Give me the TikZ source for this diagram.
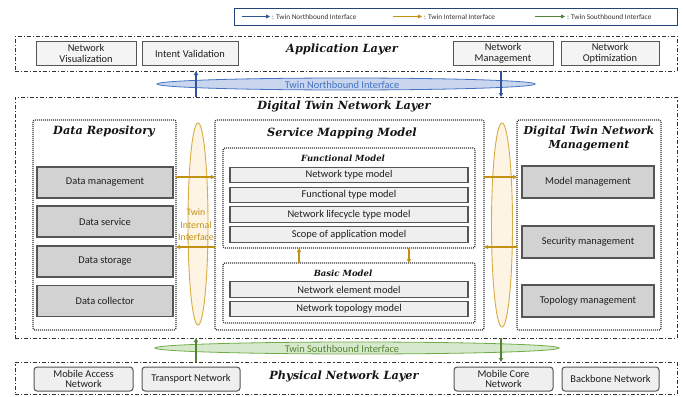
\documentclass[tikz,border=0pt]{standalone}
\usepackage{fontspec}
\setsansfont{Carlito}
\newfontfamily\headfont{DejaVu Serif}
\usetikzlibrary{arrows.meta,shapes.geometric}
\definecolor{nbblue}{HTML}{2F5597}
\definecolor{nbfill}{HTML}{C9D6EE}
\definecolor{nbline}{HTML}{4472C4}
\definecolor{inorange}{HTML}{C29214}
\definecolor{infill}{HTML}{FDF4E3}
\definecolor{inline}{HTML}{D6AA45}
\definecolor{sbgreen}{HTML}{548235}
\definecolor{sbfill}{HTML}{D6E9CC}
\definecolor{sbline}{HTML}{70AD47}
\definecolor{frame}{HTML}{333333}
\definecolor{boxline}{HTML}{555555}
\definecolor{darkfill}{HTML}{D2D2D2}
\definecolor{lightfill}{HTML}{EFEFEF}
\begin{document}
\begin{tikzpicture}[x=1pt,y=-1pt,
  every node/.style={inner sep=0pt, outer sep=0pt},
  layerbox/.style={draw=frame, line width=0.9pt, dash pattern=on 4pt off 2pt on 1.2pt off 2pt},
  dotbox/.style={draw=frame, line width=1.3pt, dash pattern=on 1pt off 1pt, rounded corners=2pt},
  ttl/.style={font=\headfont\fontsize{11.3}{13}\selectfont\bfseries\itshape, text=black!92},
  subttl/.style={font=\headfont\fontsize{8.5}{10}\selectfont\bfseries\itshape, text=black!92},
  body/.style={font=\sffamily\fontsize{10.4}{10.8}\selectfont, text=black!88, align=center},
  appbox/.style={body, draw=boxline, line width=1pt, fill=lightfill!70!white},
  physbox/.style={body, draw=boxline, line width=1pt, fill=lightfill, rounded corners=3pt},
  darkbox/.style={body, draw=boxline, line width=1.2pt, fill=darkfill},
  lightbox/.style={body, draw=boxline, line width=1.2pt, fill=lightfill},
  nbarrow/.style={draw=nbblue, line width=1.1pt, -{Triangle[length=4pt,width=4pt]}},
  inarrow/.style={draw=inorange, line width=1.1pt, -{Triangle[length=4pt,width=4pt]}},
  sbarrow/.style={draw=sbgreen, line width=1.1pt, -{Triangle[length=4pt,width=4pt]}},
  legtext/.style={font=\sffamily\fontsize{7.3}{8}\selectfont, text=black!80, anchor=west}
]
\useasboundingbox (0,0) rectangle (684,396);

% ---------- legend ----------
\node[draw=nbblue!80!black, line width=0.8pt, minimum width=443pt, minimum height=17pt] (legend) at (455.5,16.5) {};
\coordinate (lg1a) at (242,16.5); \coordinate (lg1b) at (270,16.5);
\coordinate (lg2a) at (393,16.5); \coordinate (lg2b) at (422,16.5);
\coordinate (lg3a) at (535,16.5); \coordinate (lg3b) at (565,16.5);
\draw[nbarrow, line width=0.8pt] (lg1a) -- (lg1b);
\draw[inarrow, line width=0.8pt] (lg2a) -- (lg2b);
\draw[sbarrow, line width=0.8pt] (lg3a) -- (lg3b);
\node[legtext] (lgt1) at (272,17) {: Twin Northbound Interface};
\node[legtext] (lgt2) at (424,17) {: Twin Internal Interface};
\node[legtext] (lgt3) at (567,17) {: Twin Southbound Interface};

% ---------- application layer ----------
\node[layerbox, minimum width=662pt, minimum height=35pt] (app) at (346,53.5) {};
\node[ttl] (apptitle) at (342,49) {Application Layer};
\node[appbox, minimum width=100pt, minimum height=23pt] (nvis) at (86,53.5) {Network\\Visualization};
\node[appbox, minimum width=96pt, minimum height=23pt] (ival) at (190,53.5) {Intent Validation};
\node[appbox, minimum width=100pt, minimum height=23pt] (nman) at (503,53.5) {Network\\Management};
\node[appbox, minimum width=98pt, minimum height=23pt] (nopt) at (610,53.5) {Network\\Optimization};

% ---------- northbound interface ----------
\node[ellipse, draw=nbline, line width=0.8pt, fill=nbfill, minimum width=378pt, minimum height=12pt] (nbell) at (346,84) {};
\node[body, text=nbline] (nbtext) at (342,84.5) {Twin Northbound Interface};

% ---------- digital twin network layer ----------
\node[layerbox, minimum width=662pt, minimum height=241pt] (dtn) at (346,217.5) {};
\node[ttl] (dtntitle) at (344,106) {Digital Twin Network Layer};

\coordinate (nbx1) at (196,0);
\coordinate (nbx2) at (501,0);
\draw[nbarrow] (dtn.north -| nbx1) -- (app.south -| nbx1);
\draw[nbarrow] (app.south -| nbx2) -- (dtn.north -| nbx2);

% data repository
\node[dotbox, minimum width=143pt, minimum height=210pt] (repo) at (104.5,225) {};
\node[ttl] (repotitle) at (104,131) {Data Repository};
\node[darkbox, minimum width=136pt, minimum height=31pt] (dmgmt) at (105,182.5) {Data management};
\node[darkbox, minimum width=136pt, minimum height=31pt] (dserv) at (105,221.5) {Data service};
\node[darkbox, minimum width=136pt, minimum height=31pt] (dstor) at (105,261.5) {Data storage};
\node[darkbox, minimum width=136pt, minimum height=31pt] (dcoll) at (105,301) {Data collector};

% internal interface ellipses
\node[ellipse, draw=inline, line width=0.9pt, fill=infill, minimum width=20pt, minimum height=202pt] (inl) at (198,224) {};
\node[ellipse, draw=inline, line width=0.9pt, fill=infill, minimum width=21pt, minimum height=204pt] (inr) at (502,225) {};
\node[body, text=inorange, font=\sffamily\fontsize{9.8}{12.5}\selectfont] (intext) at (196,225) {Twin\\Internal\\Interface};

% service mapping model
\node[dotbox, minimum width=269pt, minimum height=210pt] (smm) at (349.5,225) {};
\node[ttl] (smmtitle) at (342,133) {Service Mapping Model};

\node[dotbox, minimum width=252pt, minimum height=100pt] (func) at (349,198) {};
\node[subttl] (functitle) at (343,158) {Functional Model};
\node[lightbox, minimum width=238pt, minimum height=15.5pt] (ntype) at (349,175) {Network type model};
\node[lightbox, minimum width=238pt, minimum height=15.5pt] (ftype) at (349,195) {Functional type model};
\node[lightbox, minimum width=238pt, minimum height=15.5pt] (ltype) at (349,214.5) {Network lifecycle type model};
\node[lightbox, minimum width=238pt, minimum height=15.5pt] (scope) at (349,234.5) {Scope of application model};

\node[dotbox, minimum width=252pt, minimum height=60pt] (basic) at (349,293) {};
\node[subttl] (basictitle) at (343,273) {Basic Model};
\node[lightbox, minimum width=238pt, minimum height=15.5pt] (nelem) at (349,289.5) {Network element model};
\node[lightbox, minimum width=238pt, minimum height=15.5pt] (ntopo) at (349,309) {Network topology model};

\coordinate (fbx1) at (299,0);
\coordinate (fbx2) at (409,0);
\draw[inarrow] (basic.north -| fbx1) -- (func.south -| fbx1);
\draw[inarrow] (func.south -| fbx2) -- (basic.north -| fbx2);

% digital twin network management
\node[dotbox, minimum width=144pt, minimum height=210pt] (mgmt) at (589,225) {};
\node[ttl, align=center, font=\headfont\fontsize{11}{14.5}\selectfont\bfseries\itshape] (mgmttitle) at (589,138.5) {Digital Twin Network\\Management};
\node[darkbox, minimum width=132pt, minimum height=32pt] (mmod) at (588,182) {Model management};
\node[darkbox, minimum width=132pt, minimum height=32pt] (msec) at (588,242) {Security management};
\node[darkbox, minimum width=132pt, minimum height=32pt] (mtop) at (588,301) {Topology management};

% internal interface connectors
\coordinate (iny1) at (0,177);
\coordinate (iny2) at (0,247);
\draw[inarrow] (repo.east |- iny1) -- (smm.west |- iny1);
\draw[inarrow] (smm.west |- iny2) -- (repo.east |- iny2);
\draw[inarrow] (smm.east |- iny1) -- (mgmt.west |- iny1);
\draw[inarrow] (mgmt.west |- iny2) -- (smm.east |- iny2);

% ---------- southbound interface ----------
\node[ellipse, draw=sbline, line width=0.8pt, fill=sbfill, minimum width=404pt, minimum height=12pt] (sbell) at (357,348) {};
\node[body, text=sbgreen] (sbtext) at (342,349) {Twin Southbound Interface};

% ---------- physical network layer ----------
\node[layerbox, minimum width=662pt, minimum height=32pt] (phys) at (346,378) {};
\node[ttl] (phystitle) at (344,376) {Physical Network Layer};
\node[physbox, minimum width=99pt, minimum height=24pt] (macc) at (83.5,379) {Mobile Access\\Network};
\node[physbox, minimum width=98pt, minimum height=24pt] (trans) at (191,379) {Transport Network};
\node[physbox, minimum width=99pt, minimum height=24pt] (mcore) at (503.5,379) {Mobile Core\\Network};
\node[physbox, minimum width=97pt, minimum height=24pt] (bbone) at (610.5,379) {Backbone Network};

\coordinate (sbx1) at (196,0);
\coordinate (sbx2) at (501,0);
\draw[sbarrow] (phys.north -| sbx1) -- (dtn.south -| sbx1);
\draw[sbarrow] (dtn.south -| sbx2) -- (phys.north -| sbx2);
\end{tikzpicture}
\end{document}
